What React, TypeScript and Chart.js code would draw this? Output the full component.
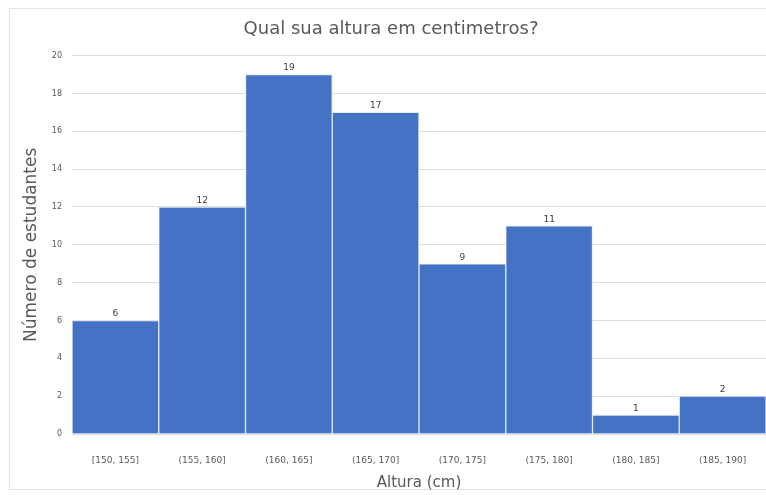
import React, { useEffect, useRef } from "react";
import { Chart, registerables } from "chart.js";

Chart.register(...registerables);

const categories = [
  "[150, 155]",
  "(155, 160]",
  "(160, 165]",
  "(165, 170]",
  "(170, 175]",
  "(175, 180]",
  "(180, 185]",
  "(185, 190]",
];
const counts = [6, 12, 19, 17, 9, 11, 1, 2];
const yTicks = [0, 2, 4, 6, 8, 10, 12, 14, 16, 18, 20];

const FONT = "'DejaVu Sans', 'Liberation Sans', sans-serif";
const BAR = "#4472C4";

// white card with a thin grey frame behind the chart
const frame = {
  id: "frame",
  beforeDraw(chart: any) {
    const { ctx, width, height } = chart;
    ctx.save();
    ctx.fillStyle = "#ffffff";
    ctx.fillRect(0, 0, width, height);
    ctx.strokeStyle = "#e3e3e3";
    ctx.lineWidth = 1;
    ctx.strokeRect(9.5, 8.5, width + 20, height - 14);
    ctx.restore();
  },
};

// count written above every bar
const valueLabels = {
  id: "valueLabels",
  afterDatasetsDraw(chart: any) {
    const { ctx } = chart;
    const meta = chart.getDatasetMeta(0);
    ctx.save();
    ctx.font = `9px ${FONT}`;
    ctx.fillStyle = "#404040";
    ctx.textAlign = "center";
    ctx.textBaseline = "bottom";
    meta.data.forEach((bar: any, i: number) => {
      ctx.fillText(String(counts[i]), bar.x, bar.y - 2);
    });
    ctx.restore();
  },
};

export default function App() {
  const ref = useRef<HTMLCanvasElement | null>(null);

  useEffect(() => {
    if (!ref.current) return;
    const chart = new Chart(ref.current, {
      type: "bar",
      data: {
        labels: categories,
        datasets: [
          {
            data: counts,
            backgroundColor: BAR,
            borderColor: "rgba(225,232,245,0.9)",
            borderWidth: 1,
            categoryPercentage: 1,
            barPercentage: 1,
          },
        ],
      },
      options: {
        animation: false,
        responsive: false,
        layout: { padding: { left: 16, right: 0, top: 0, bottom: 0 } },
        plugins: {
          legend: { display: false },
          tooltip: { enabled: false },
          title: {
            display: true,
            text: "Qual sua altura em centimetros?",
            color: "#595959",
            font: { family: FONT, size: 18, weight: "normal" },
            padding: { top: 19, bottom: 15 },
          },
        },
        scales: {
          x: {
            grid: { display: false },
            border: { display: false },
            ticks: {
              color: "#595959",
              font: { family: FONT, size: 9 },
              padding: 13,
              maxRotation: 0,
              autoSkip: false,
            },
            title: {
              display: true,
              text: "Altura (cm)",
              color: "#595959",
              font: { family: FONT, size: 15 },
              padding: { top: 0, bottom: 3 },
            },
            afterFit(scale: any) {
              scale.height = 61;
            },
          },
          y: {
            min: 0,
            max: 20,
            afterBuildTicks(scale: any) {
              scale.ticks = yTicks.map((v) => ({ value: v }));
            },
            grid: { color: "#dedede", drawTicks: false },
            border: { display: false },
            ticks: {
              color: "#595959",
              font: { family: FONT, size: 8 },
              padding: 10,
            },
            title: {
              display: true,
              text: "Número de estudantes",
              color: "#595959",
              font: { family: FONT, size: 17 },
              padding: { top: 5, bottom: 0 },
            },
            afterFit(scale: any) {
              scale.width = 56;
            },
          },
        },
      },
      plugins: [frame, valueLabels],
    });
    return () => chart.destroy();
  }, []);

  return (
    <div style={{ position: "fixed", left: 0, top: 0, width: 766, height: 495, background: "#fff" }}>
      <canvas ref={ref} width={766} height={495} style={{ display: "block" }} />
    </div>
  );
}
